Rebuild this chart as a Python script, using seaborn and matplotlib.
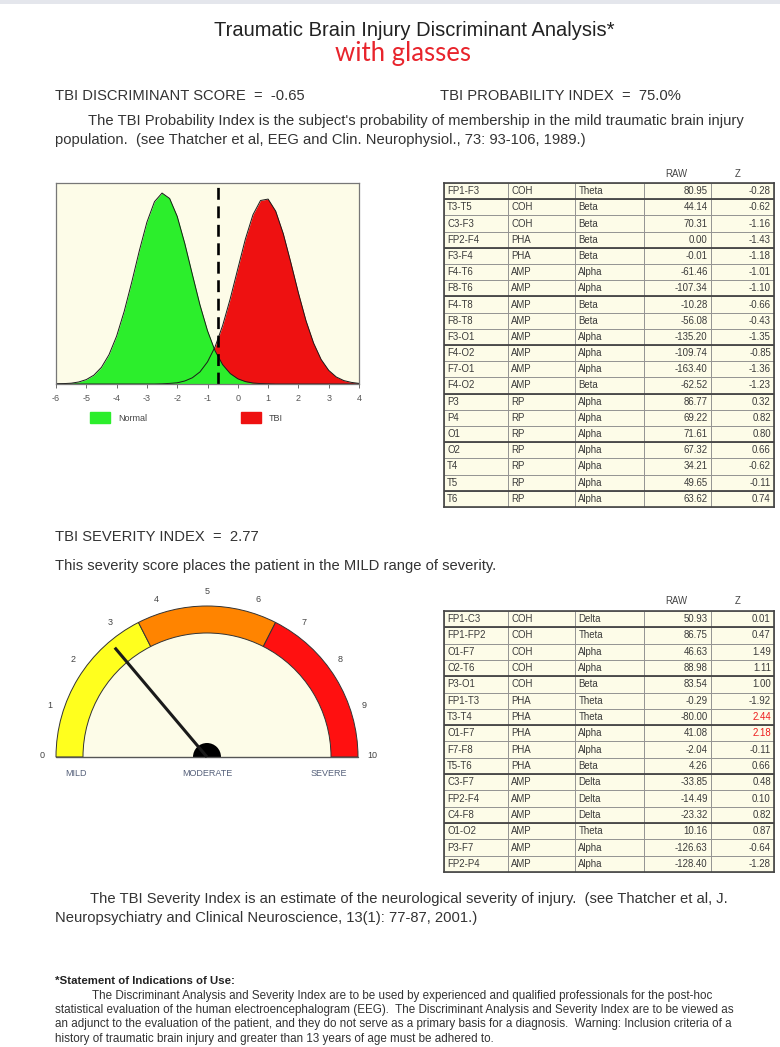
import numpy as np
import matplotlib
matplotlib.use("Agg")
import matplotlib.pyplot as plt
from matplotlib.patches import Patch, Wedge, Rectangle
import seaborn as sns

W, H = 780, 1047

# discriminant curves, heights (fraction of plot height)
score_grid = [-6.0, -5.75, -5.5, -5.25, -5.0, -4.75, -4.5, -4.25, -4.0, -3.75,
              -3.5, -3.25, -3.0, -2.75, -2.5, -2.25, -2.0, -1.75, -1.5, -1.25,
              -1.0, -0.75, -0.5, -0.25, 0.0, 0.25, 0.5, 0.75, 1.0, 1.25,
              1.5, 1.75, 2.0, 2.25, 2.5, 2.75, 3.0, 3.25, 3.5, 3.75, 4.0]
normal_density = [0.001, 0.002, 0.004, 0.010, 0.022, 0.044, 0.083, 0.146, 0.238, 0.361,
                  0.507, 0.663, 0.805, 0.907, 0.950, 0.923, 0.834, 0.699, 0.545, 0.394,
                  0.265, 0.165, 0.096, 0.052, 0.026, 0.012, 0.005, 0.002, 0.001, 0.0,
                  0.0, 0.0, 0.0, 0.0, 0.0, 0.0, 0.0, 0.0, 0.0, 0.0, 0.0]
tbi_density = [0.0, 0.0, 0.0, 0.0, 0.0, 0.0, 0.0, 0.0, 0.0, 0.0,
               0.0, 0.0, 0.0, 0.0, 0.001, 0.003, 0.006, 0.015, 0.031, 0.060,
               0.110, 0.185, 0.291, 0.424, 0.573, 0.721, 0.842, 0.913, 0.920, 0.860,
               0.748, 0.604, 0.453, 0.315, 0.204, 0.122, 0.068, 0.035, 0.017, 0.008, 0.003]
score_ticks = [-6, -5, -4, -3, -2, -1, 0, 1, 2, 3, 4]
discriminant_score = -0.65
probability_index = 75.0

# severity gauge
severity_index = 2.77
gauge_bounds = [0, 3.5, 6.5, 10]
gauge_colors = ["#ffff1e", "#ff8400", "#ff1010"]
gauge_ticks = [0, 1, 2, 3, 4, 5, 6, 7, 8, 9, 10]
gauge_words = ["MILD", "MODERATE", "SEVERE"]
gauge_word_values = [0.7, 5, 9.0]

# table 1 (discriminant measures)
t1_site = ["FP1-F3", "T3-T5", "C3-F3", "FP2-F4", "F3-F4", "F4-T6", "F8-T6", "F4-T8",
           "F8-T8", "F3-O1", "F4-O2", "F7-O1", "F4-O2", "P3", "P4", "O1", "O2", "T4",
           "T5", "T6"]
t1_measure = ["COH", "COH", "COH", "PHA", "PHA", "AMP", "AMP", "AMP", "AMP", "AMP",
              "AMP", "AMP", "AMP", "RP", "RP", "RP", "RP", "RP", "RP", "RP"]
t1_band = ["Theta", "Beta", "Beta", "Beta", "Beta", "Alpha", "Alpha", "Beta", "Beta",
           "Alpha", "Alpha", "Alpha", "Beta", "Alpha", "Alpha", "Alpha", "Alpha",
           "Alpha", "Alpha", "Alpha"]
t1_raw = [80.95, 44.14, 70.31, 0.00, -0.01, -61.46, -107.34, -10.28, -56.08, -135.20,
          -109.74, -163.40, -62.52, 86.77, 69.22, 71.61, 67.32, 34.21, 49.65, 63.62]
t1_z = [-0.28, -0.62, -1.16, -1.43, -1.18, -1.01, -1.10, -0.66, -0.43, -1.35,
        -0.85, -1.36, -1.23, 0.32, 0.82, 0.80, 0.66, -0.62, -0.11, 0.74]

# table 2 (severity measures)
t2_site = ["FP1-C3", "FP1-FP2", "O1-F7", "O2-T6", "P3-O1", "FP1-T3", "T3-T4", "O1-F7",
           "F7-F8", "T5-T6", "C3-F7", "FP2-F4", "C4-F8", "O1-O2", "P3-F7", "FP2-P4"]
t2_measure = ["COH", "COH", "COH", "COH", "COH", "PHA", "PHA", "PHA", "PHA", "PHA",
              "AMP", "AMP", "AMP", "AMP", "AMP", "AMP"]
t2_band = ["Delta", "Theta", "Alpha", "Alpha", "Beta", "Theta", "Theta", "Alpha",
           "Alpha", "Beta", "Delta", "Delta", "Delta", "Theta", "Alpha", "Alpha"]
t2_raw = [50.93, 86.75, 46.63, 88.98, 83.54, -0.29, -80.00, 41.08, -2.04, 4.26,
          -33.85, -14.49, -23.32, 10.16, -126.63, -128.40]
t2_z = [0.01, 0.47, 1.49, 1.11, 1.00, -1.92, 2.44, 2.18, -0.11, 0.66,
        0.48, 0.10, 0.82, 0.87, -0.64, -1.28]

cream = "#fdfce8"
ink = "#333333"
body = 10.6

sns.set_theme(style="white")
plt.rcParams["font.family"] = ["Liberation Sans", "DejaVu Sans"]
plt.rcParams["axes.unicode_minus"] = False

fig = plt.figure(figsize=(W / 100, H / 100), dpi=100)
fig.patch.set_facecolor("white")
fig.add_artist(Rectangle((0, 1 - 4 / H), 1, 4 / H, transform=fig.transFigure,
                         facecolor="#e4e6ec", edgecolor="none"))


def px(x0, y0, x1, y1):
    return [x0 / W, 1 - y1 / H, (x1 - x0) / W, (y1 - y0) / H]


def put(x, y, s, **kw):
    kw.setdefault("fontsize", body)
    kw.setdefault("color", ink)
    kw.setdefault("va", "center")
    fig.text(x / W, 1 - y / H, s, **kw)


# header text
put(414, 30, "Traumatic Brain Injury Discriminant Analysis*", fontsize=14.5, ha="center",
    color="#222222")
put(403, 53, "with glasses", fontsize=18.5, ha="center", color="#e8242c",
    family=["Lato", "DejaVu Sans"])
put(55, 96, f"TBI DISCRIMINANT SCORE  =  {discriminant_score:.2f}")
put(440, 96, f"TBI PROBABILITY INDEX  =  {probability_index:.1f}%")
put(88, 121, "The TBI Probability Index is the subject's probability of membership "
             "in the mild traumatic brain injury")
put(55, 140, "population.  (see Thatcher et al, EEG and Clin. Neurophysiol., "
             "73: 93-106, 1989.)")

# discriminant distributions
ax = fig.add_axes(px(56, 183, 359, 384))
ax.set_facecolor(cream)
ax.fill_between(score_grid, tbi_density, color="#ee1111", lw=0)
ax.fill_between(score_grid, normal_density, color="#2cee2c", lw=0)
sns.lineplot(x=score_grid, y=tbi_density, ax=ax, color="#1a1a1a", lw=0.7)
sns.lineplot(x=score_grid, y=normal_density, ax=ax, color="#1a1a1a", lw=0.7)
ax.axvline(discriminant_score, color="black", lw=1.9, dashes=(4.5, 2.5))
ax.set_xlim(-6, 4)
ax.set_ylim(0, 1)
ax.set_xticks(score_ticks)
ax.set_yticks([])
ax.tick_params(axis="x", labelsize=6.5, colors="#555555", length=3, pad=4,
               bottom=True, width=0.6)
for s in ax.spines.values():
    s.set_color("#777777")
    s.set_linewidth(0.9)
ax.legend(handles=[Patch(color="#2cee2c"), Patch(color="#ee1111")],
          labels=["Normal", "TBI"], loc="upper left", bbox_to_anchor=(0.085, -0.1),
          ncol=2, frameon=False, fontsize=6.5, handlelength=2.2, handleheight=1.5,
          columnspacing=10.4, handletextpad=0.9, labelcolor="#444444")

# severity text
put(55, 537, f"TBI SEVERITY INDEX  =  {severity_index:.2f}")
put(55, 566, "This severity score places the patient in the MILD range of severity.")

# gauge, drawn in pixel units around its centre
gx = fig.add_axes(px(0, 560, 420, 800))
cx = 207
gx.set_xlim(0, 420)
gx.set_ylim(-43, 197)
gx.set_aspect("equal")
gx.set_axis_off()
r_out, band = 151, 27


def ang(v):
    return 180 - 18 * v


gx.add_patch(Wedge((cx, 0), r_out - band, 0, 180, facecolor=cream, edgecolor="none"))
for lo, hi, col in zip(gauge_bounds[:-1], gauge_bounds[1:], gauge_colors):
    gx.add_patch(Wedge((cx, 0), r_out, ang(hi), ang(lo), width=band,
                       facecolor=col, edgecolor="#333333", lw=0.7))
gx.plot([cx - r_out, cx + r_out], [0, 0], color="#555555", lw=1)
for v in gauge_ticks:
    a = np.radians(ang(v))
    gx.text(cx + 165 * np.cos(a), 165 * np.sin(a) + 1, str(v), fontsize=6.5,
            color="#444444", ha="center", va="center")
for w, v in zip(gauge_words, gauge_word_values):
    gx.text(cx + (v - 5) * 30.5, -16, w, fontsize=6.5, color="#55607a",
            ha="center", va="center")
a = np.radians(ang(severity_index))
gx.plot([cx, cx + 143 * np.cos(a)], [0, 143 * np.sin(a)], color="#1a1a1a", lw=2.2,
        solid_capstyle="butt")
gx.add_patch(Wedge((cx, 0), 14, 0, 180, facecolor="black", edgecolor="none"))

# tables
col_widths = [64, 67, 69, 67, 63]
col_widths = [c / sum(col_widths) for c in col_widths]


def draw_table(rect, site, measure, bandname, raw, z):
    tx = fig.add_axes(rect)
    tx.set_xlim(0, 1)
    tx.set_ylim(0, 1)
    tx.set_xticks([])
    tx.set_yticks([])
    for s in tx.spines.values():
        s.set_color("#444444")
        s.set_linewidth(1.2)
    rows = [[a, b, c, f"{r:.2f}", f"{q:.2f}"]
            for a, b, c, r, q in zip(site, measure, bandname, raw, z)]
    tbl = tx.table(cellText=rows, colWidths=col_widths, bbox=[0, 0, 1, 1],
                   cellLoc="left")
    tbl.auto_set_font_size(False)
    tbl.set_fontsize(6.9)
    for (r, c), cell in tbl.get_celld().items():
        cell.set_facecolor(cream)
        cell.set_edgecolor("#8c8c8c")
        cell.set_linewidth(0.6)
        cell.PAD = 0.05
        txt = cell.get_text()
        txt.set_color("#3a3a3a")
        if c >= 3:
            cell._loc = "right"
            txt.set_ha("right")
        if c == 4 and abs(z[r]) >= 1.96:
            txt.set_color("#ee1c1c")
    n = len(site)
    for k in range(1, n, 3):
        tx.axhline(1 - k / n, color="#444444", lw=1.3)


draw_table(px(444, 183, 774, 507), t1_site, t1_measure, t1_band, t1_raw, t1_z)
put(676, 174, "RAW", fontsize=6.9, ha="center", color="#444444")
put(738, 174, "Z", fontsize=6.9, ha="center", color="#444444")
draw_table(px(444, 611, 774, 872), t2_site, t2_measure, t2_band, t2_raw, t2_z)
put(676, 601, "RAW", fontsize=6.9, ha="center", color="#444444")
put(738, 601, "Z", fontsize=6.9, ha="center", color="#444444")

# severity reference
put(90, 899, "The TBI Severity Index is an estimate of the neurological severity "
             "of injury.  (see Thatcher et al, J.")
put(55, 918, "Neuropsychiatry and Clinical Neuroscience, 13(1): 77-87, 2001.)")

# statement of use
put(55, 981, "*Statement of Indications of Use:", fontsize=8.2, weight="bold",
    color="#222222")
foot = ["The Discriminant Analysis and Severity Index are to be used by experienced "
        "and qualified professionals for the post-hoc",
        "statistical evaluation of the human electroencephalogram (EEG).  The "
        "Discriminant Analysis and Severity Index are to be viewed as",
        "an adjunct to the evaluation of the patient, and they do not serve as a "
        "primary basis for a diagnosis.  Warning: Inclusion criteria of a",
        "history of traumatic brain injury and greater than 13 years of age must "
        "be adhered to."]
for i, line in enumerate(foot):
    put(92 if i == 0 else 55, 995.5 + 14.5 * i, line, fontsize=8.4)

fig.savefig("out.png", dpi=100, facecolor="white")
